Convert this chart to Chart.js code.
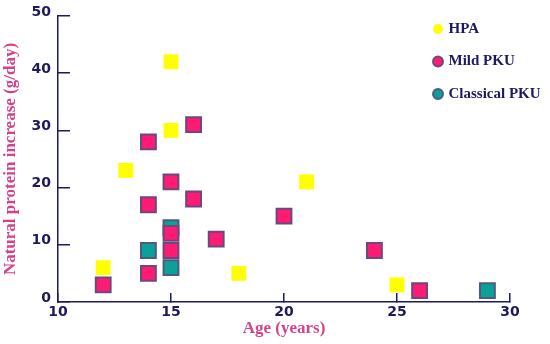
<!DOCTYPE html>
<html>
<head>
<meta charset="utf-8">
<script src="https://cdn.jsdelivr.net/npm/chart.js@4/dist/chart.umd.min.js"></script>
<style>
  html, body { margin: 0; padding: 0; background: #fff; }
  #wrap { width: 550px; height: 344px; position: relative; }
</style>
</head>
<body>
<div id="wrap"><canvas id="chart1"></canvas></div>
<script>
// values: [age, protein increase]
const hpaAges = [15, 15, 13, 12, 18, 21, 25];
const hpaProtein = [42, 30, 23, 6, 5, 21, 3];

const mildAges = [14, 16, 15, 14, 16, 15, 15, 17, 14, 12, 20, 24, 26];
const mildProtein = [28, 31, 21, 17, 18, 12, 9, 11, 5, 3, 15, 9, 2];

const classicalAges = [15, 14, 15, 29];
const classicalProtein = [13, 9, 6, 2];

const xTicks = [10, 15, 20, 25, 30];
const yTicks = [0, 10, 20, 30, 40, 50];

const navy = '#1c1a5e';
const pink = '#d4428b';

function points(xs, ys) {
    return xs.map((x, i) => ({ x: x, y: ys[i] }));
}

// put the legend in the top right corner of the plot
const moveLegend = {
    id: 'moveLegend',
    afterLayout(chart) {
        const lg = chart.legend;
        const w = lg.width;
        const h = lg.height;
        lg.left = 417.5;
        lg.right = 417.5 + w;
        lg.top = 4;
        lg.bottom = 4 + h;
    }
};

document.addEventListener('DOMContentLoaded', () => {
    const ctx1 = document.getElementById('chart1').getContext('2d');
    new Chart(ctx1, {
        type: 'scatter',
        data: {
            datasets: [{
                label: 'HPA',
                data: points(hpaAges, hpaProtein),
                backgroundColor: '#ffff00',
                borderColor: '#ffff00',
                borderWidth: 0
            }, {
                label: 'Mild PKU',
                data: points(mildAges, mildProtein),
                backgroundColor: '#ff1a74',
                borderColor: '#6a4a7c',
                borderWidth: 2
            }, {
                label: 'Classical PKU',
                data: points(classicalAges, classicalProtein),
                backgroundColor: '#0aa199',
                borderColor: '#4f5a82',
                borderWidth: 2
            }]
        },
        plugins: [moveLegend],
        options: {
            responsive: true,
            maintainAspectRatio: false,
            animation: false,
            layout: { padding: { top: 16, right: 40, bottom: 0, left: 0 } },
            elements: {
                point: { pointStyle: 'rect', radius: 10.5, hoverRadius: 10.5 }
            },
            plugins: {
                tooltip: { enabled: false },
                legend: {
                    display: true,
                    position: 'chartArea',
                    align: 'start',
                    labels: {
                        usePointStyle: true,
                        pointStyle: 'circle',
                        boxHeight: 7,
                        boxWidth: 6,
                        padding: 17.5,
                        color: navy,
                        font: { family: '"Liberation Serif", serif', size: 15, weight: 'bold' }
                    }
                }
            },
            scales: {
                x: {
                    type: 'linear',
                    min: 10,
                    max: 30,
                    afterFit: (s) => { s.height = 42; s.paddingLeft = 0; s.paddingRight = 0; },
                    afterBuildTicks: (s) => { s.ticks = xTicks.map(v => ({ value: v })); },
                    border: { color: navy, width: 1.5 },
                    grid: { drawOnChartArea: false, color: navy, lineWidth: 1.5, tickLength: -9 },
                    ticks: {
                        padding: 11,
                        color: navy,
                        font: { family: '"DejaVu Sans", sans-serif', size: 14, weight: 'bold' }
                    },
                    title: {
                        display: true,
                        text: 'Age (years)',
                        color: pink,
                        padding: { top: 0, bottom: 5 },
                        font: { family: '"Liberation Serif", serif', size: 17, weight: 'bold' }
                    }
                },
                y: {
                    type: 'linear',
                    min: 0,
                    max: 50,
                    afterFit: (s) => { s.width = 58; s.paddingTop = 0; s.paddingBottom = 0; },
                    afterBuildTicks: (s) => { s.ticks = yTicks.map(v => ({ value: v })); },
                    border: { color: navy, width: 1.5 },
                    grid: { drawOnChartArea: false, color: navy, lineWidth: 1.5, tickLength: -12 },
                    ticks: {
                        padding: 19,
                        labelOffset: -4,
                        color: navy,
                        font: { family: '"DejaVu Sans", sans-serif', size: 14, weight: 'bold' }
                    },
                    title: {
                        display: true,
                        text: 'Natural protein increase (g/day)',
                        color: pink,
                        padding: { top: 0, bottom: 0 },
                        font: { family: '"Liberation Serif", serif', size: 17, weight: 'bold' }
                    }
                }
            }
        }
    });
});
</script>
</body>
</html>
